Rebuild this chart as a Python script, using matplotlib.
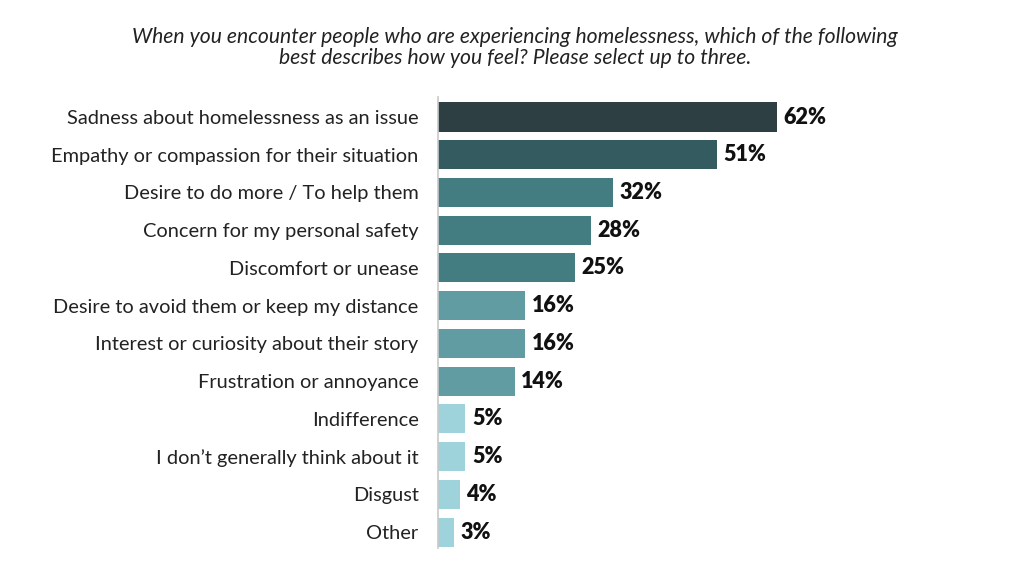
import matplotlib.pyplot as plt

categories = [
    "Sadness about homelessness as an issue",
    "Empathy or compassion for their situation",
    "Desire to do more / To help them",
    "Concern for my personal safety",
    "Discomfort or unease",
    "Desire to avoid them or keep my distance",
    "Interest or curiosity about their story",
    "Frustration or annoyance",
    "Indifference",
    "I don\u2019t generally think about it",
    "Disgust",
    "Other",
]
values = [62, 51, 32, 28, 25, 16, 16, 14, 5, 5, 4, 3]
colors = ["#2d3f43", "#345b60", "#437d81", "#437d81", "#437d81",
          "#609ca1", "#609ca1", "#609ca1",
          "#9fd3dc", "#9fd3dc", "#9fd3dc", "#9fd3dc"]

title = ("When you encounter people who are experiencing homelessness, which of the following\n"
         "best describes how you feel? Please select up to three.")

plt.rcParams['font.family'] = ['Lato', 'DejaVu Sans']

fig = plt.figure(figsize=(10.24, 5.76), dpi=100)
ax = fig.add_axes([0.4277, 0.0486, 0.534, 0.783])

pos = list(range(len(categories)))
ax.barh(pos, values, height=0.77, color=colors)
ax.set_xlim(0, 100)
ax.set_ylim(11.42, -0.53)

for p, v in zip(pos, values):
    ax.text(v + 1.2, p, f"{v}%", va="center", ha="left",
            fontsize=15.5, fontweight="heavy", color="#111111")

ax.set_yticks(pos)
ax.set_yticklabels(categories, fontsize=14.4, color="#222222")
ax.tick_params(axis="y", length=0, pad=14)
ax.set_xticks([])
for s in ["top", "right", "bottom"]:
    ax.spines[s].set_visible(False)
ax.spines["left"].set_color("#c8c8c8")
ax.spines["left"].set_linewidth(1.2)

fig.text(0.503, 0.917, title, ha="center", va="center", fontsize=15.2,
         style="italic", color="#222222", linespacing=1.06)

fig.savefig("out.png", dpi=100)
